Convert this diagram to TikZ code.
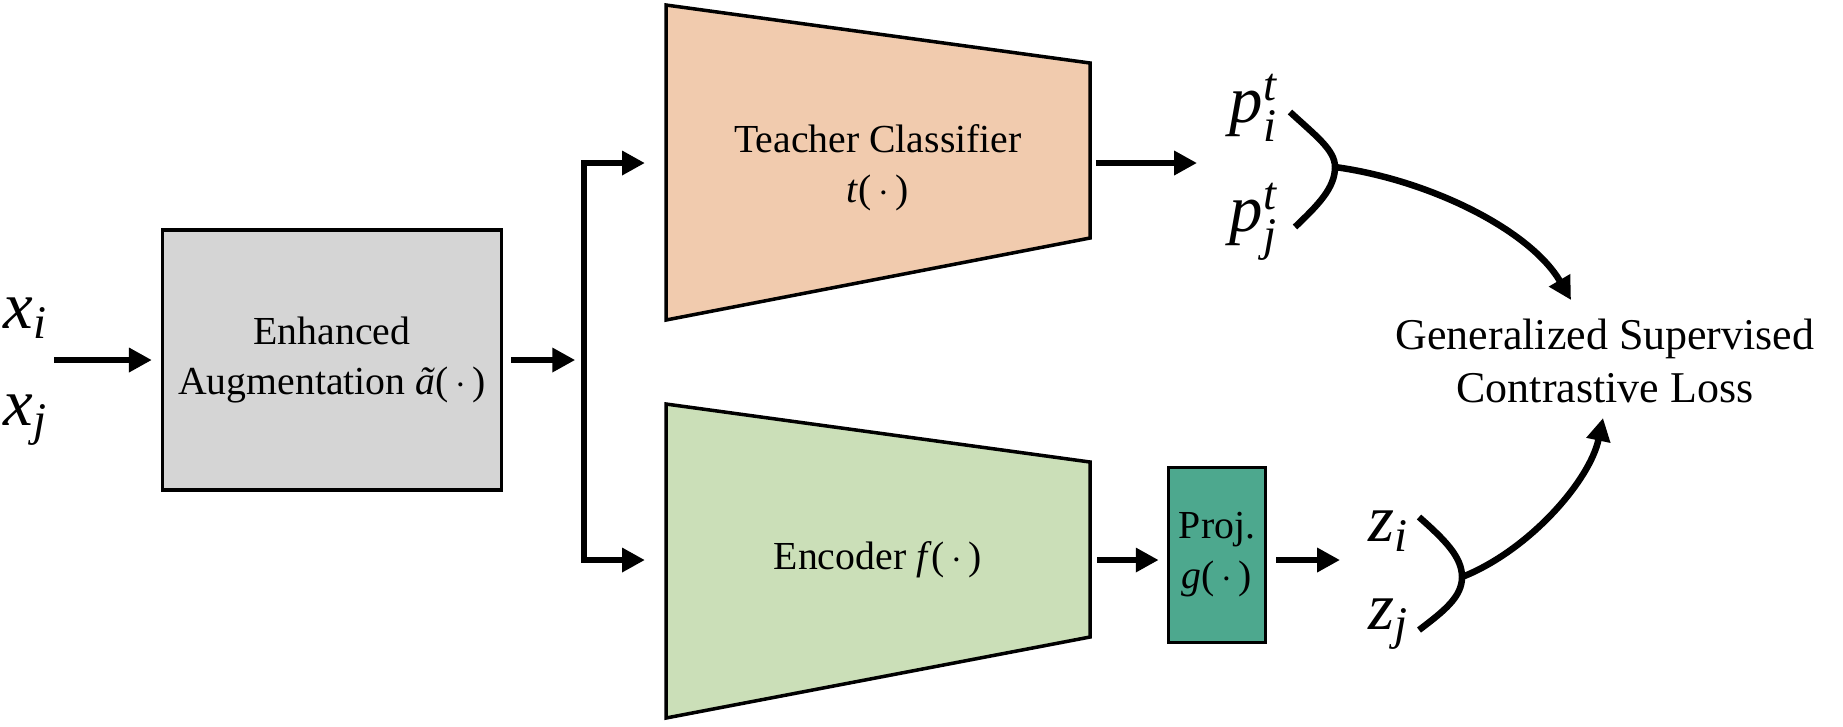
\documentclass[tikz,border=0pt]{standalone}
\usepackage{amsmath}
\usepackage{fontspec}
\setmainfont{Liberation Serif}
\usetikzlibrary{arrows.meta}

\definecolor{augfill}{HTML}{D5D5D5}
\definecolor{teacherfill}{HTML}{F1CBAE}
\definecolor{encoderfill}{HTML}{CBDFB8}
\definecolor{projfill}{HTML}{4DA88E}

\begin{document}
\begin{tikzpicture}[x=0.01cm,y=-0.01cm,
box/.style={
% The shape:
rectangle,
draw=black,
line width=1pt,
inner sep=0pt,
align=center,
font=\fontsize{11.3}{14.2}\selectfont
},
trap/.style={draw=black,line width=1pt,line join=miter},
boxtext/.style={align=center,font=\fontsize{11.3}{14.2}\selectfont},
var/.style={font=\fontsize{19}{22}\selectfont,inner sep=0pt},
flow/.style={line width=1.85pt,-{Triangle[length=6.5pt,width=6.6pt]}},
bracket/.style={line width=1.85pt}
]
\useasboundingbox (0,0) rectangle (1843,726);

% inputs and augmentation
\node (xi) [var] at (26,318) {$\textit{x}_{\textit{i}}$};
\node (xj) [var] at (26,420) {$\textit{x}_{\textit{j}}$};
\coordinate (src) at (54,360);
\node (aug) [box,fill=augfill,minimum width=3.39cm,minimum height=2.6cm] at (332,360)
  {Enhanced\\Augmentation \textit{ã}(\,$\cdot$\,)};
\coordinate (split) at (584,360);

% teacher branch
\draw[trap,fill=teacherfill] (666,5) -- (1090,63) -- (1090,238) -- (666,320) -- cycle;
\node (teacher) [boxtext] at (878,168) {Teacher Classifier\\\textit{t}(\,$\cdot$\,)};
\coordinate (tin) at (666,163);
\coordinate (tout) at (1090,163);

% encoder branch
\draw[trap,fill=encoderfill] (666,404) -- (1090,462) -- (1090,637) -- (666,718) -- cycle;
\node (encoder) [boxtext] at (878,560) {Encoder \textit{f}(\,$\cdot$\,)};
\coordinate (ein) at (666,560);
\coordinate (eout) at (1090,560);
\node (proj) [box,fill=projfill,minimum width=0.97cm,minimum height=1.75cm] at (1217,555)
  {Proj.\\\textit{g}(\,$\cdot$\,)};

% outputs
\node (pi) [var] at (1254,108) {$\textit{p}_{\textit{i}}^{\textit{t}}$};
\node (pj) [var] at (1254,222) {$\textit{p}_{\textit{j}}^{\textit{t}}$};
\node (zi) [var] at (1389,531) {$\textit{z}_{\textit{i}}$};
\node (zj) [var] at (1389,624) {$\textit{z}_{\textit{j}}$};
\node (loss) [font=\fontsize{12.5}{15.2}\selectfont,align=center] at (1605,361)
  {Generalized Supervised\\Contrastive Loss};
\coordinate (pin) at (1197,163);
\coordinate (zin) at (1340,560);
\coordinate (pa) at (1290,112);
\coordinate (pm) at (1335,167);
\coordinate (pb) at (1295,227);
\coordinate (za) at (1419,517);
\coordinate (zm) at (1462,577);
\coordinate (zb) at (1419,630);
\coordinate (lossin1) at (1571,300);
\coordinate (lossin2) at (1603,418);

\draw[flow,shorten >=2.5pt] (src) -- (aug);
\draw[flow,shorten <=2.3pt,shorten >=2.5pt] (aug) -- (split);
\draw[flow,shorten >=6pt] (split) |- (tin);
\draw[flow,shorten >=6pt] (split) |- (ein);
\draw[flow,shorten <=1.7pt] (tout) -- (pin);
\draw[flow,shorten <=2pt,shorten >=2.3pt] (eout) -- (eout -| proj.west);
\draw[flow,shorten <=2.5pt] (eout -| proj.east) -- (zin);

\draw[bracket] (pa) .. controls (1316,136) and (1335,150) .. (pm)
  .. controls (1335,188) and (1318,205) .. (pb);
\draw[bracket] (za) .. controls (1445,540) and (1462,557) .. (zm)
  .. controls (1462,597) and (1444,611) .. (zb);
\draw[flow] (pm) .. controls (1430,180) and (1530,230) .. (lossin1);
\draw[flow] (zm) .. controls (1530,550) and (1590,480) .. (lossin2);
\end{tikzpicture}
\end{document}
